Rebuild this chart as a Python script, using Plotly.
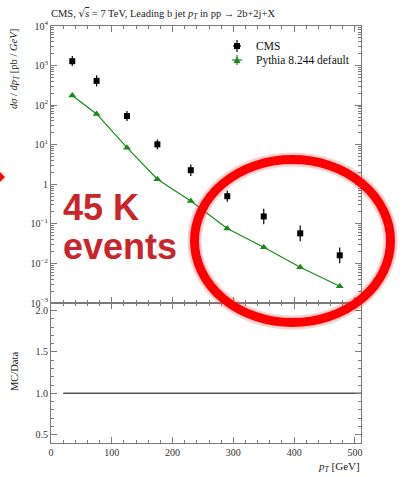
import plotly.graph_objects as go

# Leading b-jet pT spectrum, CMS 7 TeV (pp -> 2b+2j+X)
bin_edges = [20, 50, 100, 150, 200, 260, 320, 380, 440, 510]
pt_centers = [35, 75, 125, 175, 230, 290, 350, 410, 475]
cms_xsec = [1290, 410, 53, 10.2, 2.27, 0.50, 0.154, 0.0575, 0.016]
cms_err_up = [450, 157, 18, 3.4, 0.91, 0.20, 0.088, 0.034, 0.0093]
cms_err_down = [320, 113, 13, 2.5, 0.65, 0.14, 0.056, 0.021, 0.0059]
pythia_xsec = [175, 60, 8.4, 1.34, 0.38, 0.0766, 0.0255, 0.0080, 0.00265]

ytick_vals = [1e-3, 1e-2, 1e-1, 1, 1e1, 1e2, 1e3, 1e4]
ytick_text = ["10<sup>−3</sup>", "10<sup>−2</sup>", "10<sup>−1</sup>", "1",
              "10<sup>1</sup>", "10<sup>2</sup>", "10<sup>3</sup>", "10<sup>4</sup>"]
ratio_ticks = [0.5, 1.0, 1.5, 2.0]
x_ticks = [0, 100, 200, 300, 400, 500]

W, H = 403, 477
ML, MR, MT, MB = 51, 42, 26, 34
PW, PH = W - ML - MR, H - MT - MB
SPLIT = (443 - 303) / PH

SERIF = "Liberation Serif"
AX = "#7a7a7a"
GREEN = "#1b8a1b"


def px(x):
    return (x - ML) / PW


def py(y):
    return (H - MB - y) / PH


fig = go.Figure()

fig.add_trace(go.Scatter(
    x=pt_centers, y=cms_xsec, mode="markers", name="CMS",
    marker=dict(symbol="square", size=6, color="black"),
    error_y=dict(type="data", symmetric=False, array=cms_err_up,
                 arrayminus=cms_err_down, color="black", thickness=1.2, width=0),
    xaxis="x", yaxis="y", showlegend=False,
))
fig.add_trace(go.Scatter(
    x=pt_centers, y=pythia_xsec, mode="lines+markers", name="Pythia 8.244 default",
    line=dict(color=GREEN, width=1.2),
    marker=dict(symbol="triangle-up", size=7, color=GREEN),
    xaxis="x", yaxis="y", showlegend=False,
))

# Reference line of the ratio panel (data / data = 1 over the binned range)
ratio_x = []
ratio_y = []
for lo, hi in zip(bin_edges[:-1], bin_edges[1:]):
    ratio_x += [lo, hi]
    ratio_y += [1.0, 1.0]
fig.add_trace(go.Scatter(
    x=ratio_x, y=ratio_y, mode="lines", showlegend=False,
    line=dict(color="#555555", width=1.5), xaxis="x2", yaxis="y2",
))

common_axis = dict(showline=True, linecolor=AX, linewidth=1, mirror="allticks",
                   ticks="inside", tickcolor=AX, showgrid=False, zeroline=False,
                   tickfont=dict(family=SERIF, size=10, color="#333333"))

fig.update_layout(
    width=W, height=H,
    margin=dict(l=ML, r=MR, t=MT, b=MB),
    plot_bgcolor="white", paper_bgcolor="white",
    font=dict(family=SERIF, size=11, color="#222222"),
    xaxis=dict(domain=[0, 1], range=[0, 510], anchor="y", matches="x2",
               showticklabels=False, tickvals=x_ticks, ticklen=6,
               minor=dict(ticks="inside", dtick=20, ticklen=3, tickcolor=AX),
               **common_axis),
    yaxis=dict(domain=[SPLIT, 1], type="log", range=[-3, 4], anchor="x",
               tickvals=ytick_vals, ticktext=ytick_text, ticklen=6,
               minor=dict(ticks="inside", ticklen=3, tickcolor=AX,
                          tickvals=[m * 10 ** e for e in range(-3, 4) for m in range(2, 10)]),
               **common_axis),
    xaxis2=dict(domain=[0, 1], range=[0, 510], anchor="y2",
                tickvals=x_ticks, ticklen=6,
                minor=dict(ticks="inside", dtick=20, ticklen=3, tickcolor=AX),
                **common_axis),
    yaxis2=dict(domain=[0, SPLIT], range=[0.4, 2.09], anchor="x2",
                tickvals=ratio_ticks, ticktext=["0.5", "1.0", "1.5", "2.0"], ticklen=6,
                minor=dict(ticks="inside", dtick=0.1, ticklen=3, tickcolor=AX),
                **common_axis),
    showlegend=False,
)

annotations = [
    dict(text="CMS, <span style='font-family:DejaVu Serif'>√</span><span style='text-decoration:overline'><i>s</i></span> = 7 TeV, Leading b jet <i>p</i><sub><i>T</i></sub> in pp → 2b+2j+X",
         x=px(49), y=py(14), xref="paper", yref="paper", xanchor="left", yanchor="middle",
         showarrow=False, font=dict(family=SERIF, size=10.5, color="#222222")),
    dict(text="<i>dσ</i> / <i>dp</i><sub><i>T</i></sub> [pb / <i>GeV</i>]",
         x=px(14), y=py(27), xref="paper", yref="paper", xanchor="center", yanchor="top",
         textangle=-90, showarrow=False, font=dict(family=SERIF, size=10.5, color="#222222")),
    dict(text="MC/Data", x=px(14), y=py(372), xref="paper", yref="paper",
         xanchor="center", yanchor="middle", textangle=-90, showarrow=False,
         font=dict(family=SERIF, size=10.5, color="#222222")),
    dict(text="<i>p</i><sub><i>T</i></sub> [GeV]", x=px(362), y=py(467), xref="paper", yref="paper",
         xanchor="right", yanchor="middle", showarrow=False,
         font=dict(family=SERIF, size=11, color="#222222")),
    # legend labels
    dict(text="CMS", x=px(254), y=py(46), xref="paper", yref="paper",
         xanchor="left", yanchor="middle", showarrow=False,
         font=dict(family=SERIF, size=11.5, color="#111111")),
    dict(text="Pythia 8.244 default", x=px(254), y=py(60), xref="paper", yref="paper",
         xanchor="left", yanchor="middle", showarrow=False,
         font=dict(family=SERIF, size=11.5, color="#111111")),
    dict(text="<b>45 K</b>", x=px(61), y=py(208), xref="paper", yref="paper",
         xanchor="left", yanchor="middle", showarrow=False,
         font=dict(family="Liberation Sans", size=36, color="#c9252b")),
    dict(text="<b>events</b>", x=px(61), y=py(246), xref="paper", yref="paper",
         xanchor="left", yanchor="middle", showarrow=False,
         font=dict(family="Liberation Sans", size=36, color="#c9252b")),
]
fig.update_layout(annotations=annotations)


def seg(x0, y0, x1, y1, color, width):
    return dict(type="line", xref="paper", yref="paper",
                x0=px(x0), y0=py(y0), x1=px(x1), y1=py(y1),
                line=dict(color=color, width=width), layer="above")


gx, gy1, gy2 = 237, 46, 60
shapes = [
    # legend glyph: CMS
    seg(gx, gy1 - 6, gx, gy1 + 6, "black", 1.2),
    seg(gx - 4, gy1, gx + 4, gy1, "black", 1.2),
    dict(type="rect", xref="paper", yref="paper",
         x0=px(gx - 3), x1=px(gx + 3), y0=py(gy1 + 3), y1=py(gy1 - 3),
         fillcolor="black", line=dict(width=0), layer="above"),
    # legend glyph: Pythia
    seg(gx, gy2 - 5, gx, gy2 + 5, GREEN, 1.2),
    seg(gx - 5, gy2, gx + 5, gy2, GREEN, 1.2),
    dict(type="path", xref="paper", yref="paper",
         path=f"M {px(gx - 3.5)},{py(gy2 + 3)} L {px(gx + 3.5)},{py(gy2 + 3)} L {px(gx)},{py(gy2 - 3.5)} Z",
         fillcolor=GREEN, line=dict(width=0), layer="above"),
    # soft halo and solid ring
    dict(type="circle", xref="paper", yref="paper",
         x0=px(194.5), x1=px(390.5), y0=py(322.5), y1=py(159.5),
         line=dict(color="rgba(255,60,60,0.25)", width=14), layer="above"),
    dict(type="circle", xref="paper", yref="paper",
         x0=px(194.5), x1=px(390.5), y0=py(322.5), y1=py(159.5),
         line=dict(color="#ff0000", width=9), layer="above"),
    # arrow tip at the left edge
    dict(type="path", xref="paper", yref="paper",
         path=f"M {px(0)},{py(172)} L {px(5)},{py(177)} L {px(0)},{py(182)} Z",
         fillcolor="#ff0000", line=dict(width=0), layer="above"),
]
fig.update_layout(shapes=shapes)

fig.write_html("out.html")
